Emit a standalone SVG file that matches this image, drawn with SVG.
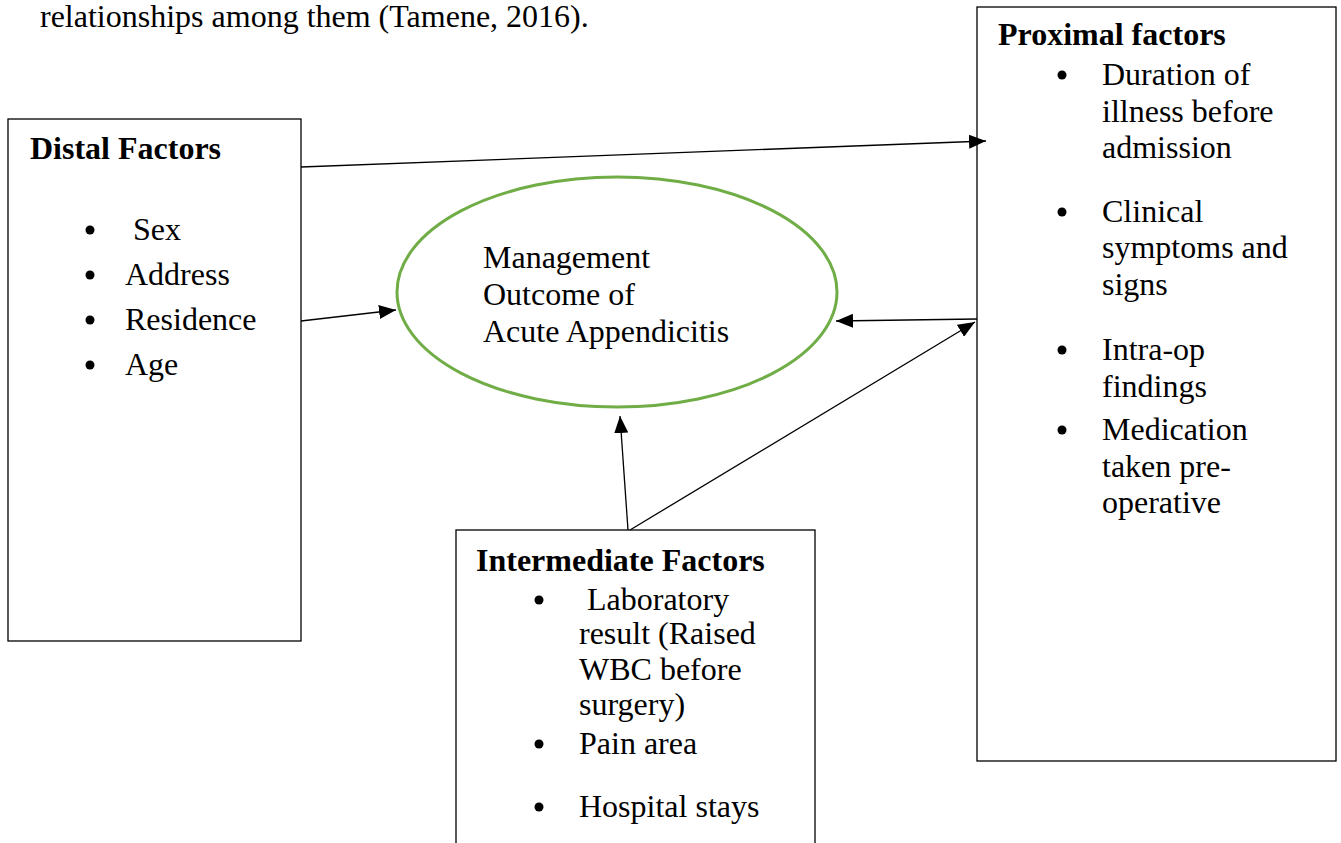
<svg xmlns="http://www.w3.org/2000/svg" width="1341" height="843" viewBox="0 0 1341 843">
<style>
text{font-family:"Liberation Serif","Times New Roman",serif;font-size:32px;fill:#000}
.b{font-weight:bold}
.box{fill:#fff;stroke:#000;stroke-width:1.3}
.dot{fill:#000}
.conn{stroke:#000;stroke-width:1.3;fill:none;marker-end:url(#ah)}
</style>
<defs>
<marker id="ah" markerUnits="userSpaceOnUse" markerWidth="18" markerHeight="14" refX="17" refY="7" orient="auto">
<path d="M0,0 L17,7 L0,14 Z" fill="#000"/>
</marker>
</defs>
<rect width="1341" height="843" fill="#fff"/>
<text x="40" y="27">relationships among them (Tamene, 2016).</text>

<g id="distal">
<rect class="box" x="8" y="119" width="293" height="522"/>
<text class="b" x="30" y="159">Distal Factors</text>
<circle class="dot" cx="90" cy="230" r="4.5"/><text x="133" y="240">Sex</text>
<circle class="dot" cx="90" cy="275" r="4.5"/><text x="125" y="285">Address</text>
<circle class="dot" cx="90" cy="320" r="4.5"/><text x="125" y="330">Residence</text>
<circle class="dot" cx="90" cy="365" r="4.5"/><text x="125" y="375">Age</text>
</g>

<g id="outcome">
<ellipse cx="617" cy="292" rx="220" ry="115" fill="#fff" stroke="#70AD47" stroke-width="3"/>
<text x="483" y="268">Management</text>
<text x="483" y="305">Outcome of</text>
<text x="483" y="342">Acute Appendicitis</text>
</g>

<g id="proximal">
<rect class="box" x="977" y="7" width="359" height="754"/>
<text class="b" x="998" y="45">Proximal factors</text>
<circle class="dot" cx="1062" cy="75" r="4.5"/>
<text x="1102" y="85">Duration of</text>
<text x="1102" y="122">illness before</text>
<text x="1102" y="158">admission</text>
<circle class="dot" cx="1062" cy="212" r="4.5"/>
<text x="1102" y="222">Clinical</text>
<text x="1102" y="258">symptoms and</text>
<text x="1102" y="295">signs</text>
<circle class="dot" cx="1062" cy="350" r="4.5"/>
<text x="1102" y="360">Intra-op</text>
<text x="1102" y="397">findings</text>
<circle class="dot" cx="1062" cy="430" r="4.5"/>
<text x="1102" y="440">Medication</text>
<text x="1102" y="477">taken pre-</text>
<text x="1102" y="513">operative</text>
</g>

<g id="intermediate">
<rect class="box" x="456" y="530" width="359" height="330"/>
<text class="b" x="476" y="571">Intermediate Factors</text>
<circle class="dot" cx="539" cy="600" r="4.5"/>
<text x="587" y="610">Laboratory</text>
<text x="579" y="644">result (Raised</text>
<text x="579" y="680">WBC before</text>
<text x="579" y="715">surgery)</text>
<circle class="dot" cx="539" cy="744" r="4.5"/>
<text x="579" y="754">Pain area</text>
<circle class="dot" cx="539" cy="807" r="4.5"/>
<text x="579" y="817">Hospital stays</text>
</g>

<g id="connectors">
<line class="conn" x1="301" y1="167" x2="986" y2="141"/>
<line class="conn" x1="301" y1="321" x2="396" y2="310"/>
<line class="conn" x1="977" y1="319" x2="836" y2="321"/>
<line class="conn" x1="628" y1="530" x2="620" y2="416"/>
<line class="conn" x1="630" y1="530" x2="975" y2="322"/>
</g>
</svg>
